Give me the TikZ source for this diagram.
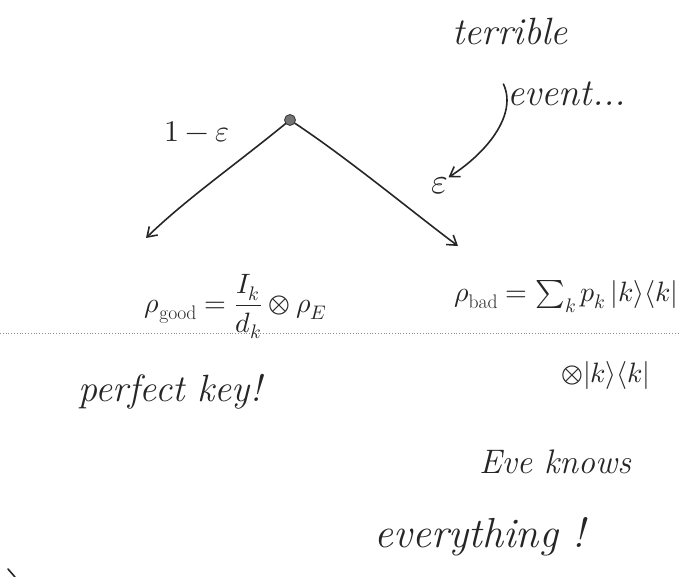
\documentclass[tikz,border=0pt]{standalone}
\usepackage{amsmath}
\usepackage{unicode-math}
\setmathfont{Latin Modern Math}
\usetikzlibrary{arrows.meta}
\begin{document}
\begin{tikzpicture}[x=1pt,y=-1pt,
  ink/.style={draw=black!85, line width=1.6pt, line cap=round},
  arr/.style={ink,-{Straight Barb[length=9pt,width=12pt,line width=1.6pt]}},
  hand/.style={inner sep=0pt, text=black!85, font=\fontsize{34}{38}\selectfont\itshape},
  mth/.style={inner sep=0pt, text=black!85, font=\fontsize{28}{32}\selectfont}]
\useasboundingbox (0,0) rectangle (680,577);
% dotted rule
\draw[black!45, line width=0.8pt, dotted] (0,333) -- (680,333);
% tree
\node[circle, fill=black!55, draw=black!80, line width=0.8pt, inner sep=0pt, minimum size=11pt] (root) at (290,120) {};
\coordinate (lend) at (146,238);
\coordinate (rend) at (458,246);
\draw[arr] (root) .. controls (235,165) and (185,200) .. (lend);
\draw[arr] (root) .. controls (350,160) and (410,210) .. (rend);
% branch labels
\node[mth, font=\fontsize{30}{34}\selectfont] (lab1) at (197,132) {$1-\varepsilon$};
\node[mth, font=\fontsize{36}{40}\selectfont] (lab2) at (440,186) {$\varepsilon$};
% note
\node[hand, font=\fontsize{38}{42}\selectfont\itshape] (terr) at (510,32) {terrible};
\node[hand, font=\fontsize{38}{42}\selectfont\itshape] (ev) at (567,94) {event...};
\draw[arr] (ev.west) ++(-4,-10) .. controls +(14,30) and (488,152) .. (lab2.north east);
% states
\node[mth] (good) at (236,307) {$\rho_{\mathrm{good}}=\dfrac{I_k}{d_k}\otimes\rho_E$};
\node[mth] (bad1) at (566,297) {$\rho_{\mathrm{bad}}=\sum_k p_k\,|k\rangle\langle k|$};
\node[mth] (bad2) at (606,375) {$\otimes|k\rangle\langle k|$};
% comments
\node[hand, font=\fontsize{38}{42}\selectfont\itshape] (perf) at (170,392) {perfect key!};
\node[hand] (eve) at (555,462) {Eve knows};
\node[hand, font=\fontsize{42}{46}\selectfont\itshape] (every) at (480,537) {everything !};
% corner mark
\draw[ink] (8,569) -- (15,577);
\end{tikzpicture}
\end{document}
